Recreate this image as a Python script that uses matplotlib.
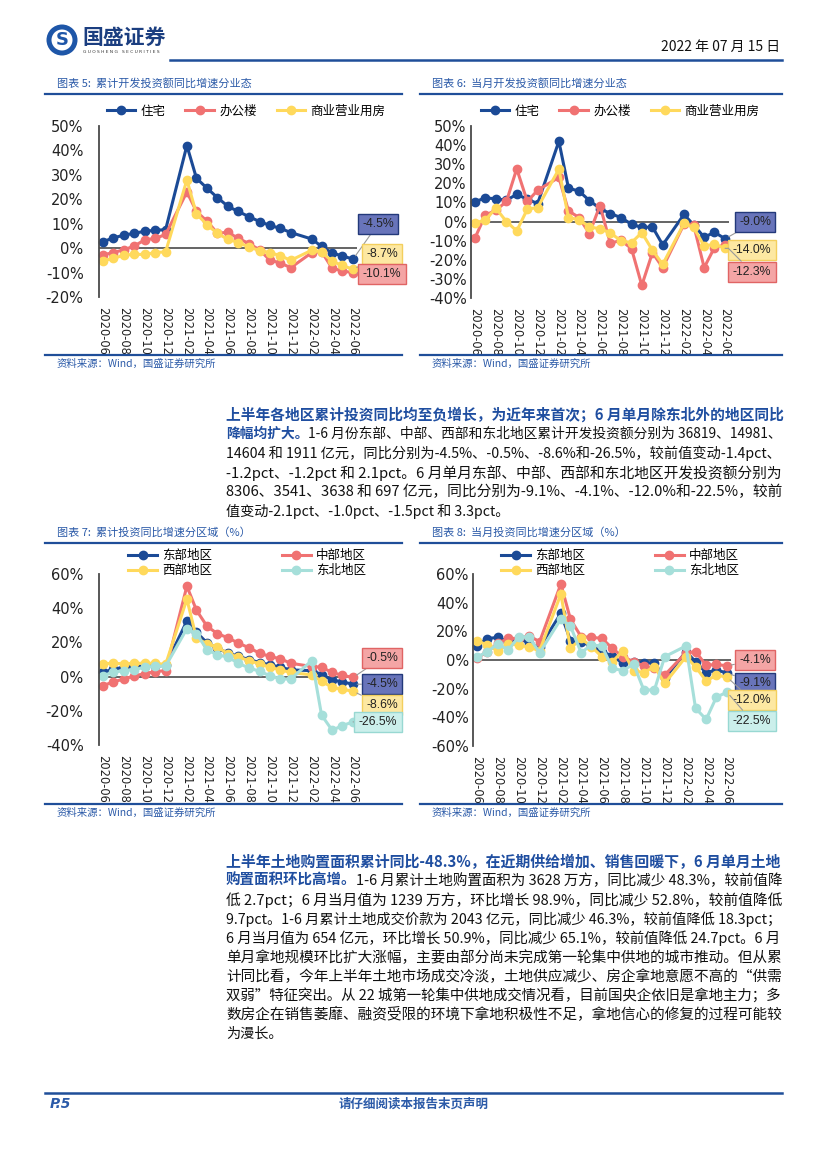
import matplotlib
matplotlib.use('Agg')
import matplotlib.pyplot as plt
import matplotlib.dates as mdates
import pandas as pd
from matplotlib.lines import Line2D
from matplotlib.patches import Ellipse

CJK = ['Noto Sans CJK SC', 'DejaVu Sans']
plt.rcParams['font.family'] = CJK

# ---------------- data ----------------
months = ['2020-06', '2020-07', '2020-08', '2020-09', '2020-10', '2020-11', '2020-12',
          '2021-02', '2021-03', '2021-04', '2021-05', '2021-06', '2021-07', '2021-08',
          '2021-09', '2021-10', '2021-11', '2021-12', '2022-02', '2022-03', '2022-04',
          '2022-05', '2022-06']

# chart 5: cumulative investment yoy by property type
res_cum = [2.6, 4.2, 5.3, 6.1, 6.9, 7.3, 7.6, 42.0, 28.6, 24.5, 20.7, 17.1, 15.0, 12.9,
           10.9, 9.3, 8.1, 6.4, 3.7, 0.7, -2.0, -3.2, -4.5]
office_cum = [-2.8, -1.8, -0.7, 0.9, 3.4, 4.0, 5.6, 23.0, 15.0, 11.0, 6.1, 6.5, 4.0, 1.9,
              -0.7, -4.9, -6.1, -8.0, -1.8, -1.4, -8.3, -9.3, -10.1]
comm_cum = [-5.2, -4.2, -2.9, -2.5, -2.6, -1.8, -1.5, 27.9, 14.0, 9.6, 6.0, 3.6, 2.3, 0.5,
            -1.0, -1.8, -3.1, -5.0, -0.8, -1.6, -5.4, -7.1, -8.7]

# chart 6: monthly investment yoy by property type
res_mon = [10.3, 12.4, 11.9, 11.2, 14.2, 11.7, 9.4, 42.0, 17.5, 15.9, 11.0, 6.8, 4.2, 2.1,
           -1.4, -3.1, -2.8, -12.2, 3.7, -1.7, -8.2, -5.6, -9.0]
office_mon = [-8.7, 3.3, 5.9, 10.5, 27.6, 10.5, 16.4, 23.1, 5.6, 2.1, -6.3, 8.4, -11.4, -9.8,
              -14.2, -33.4, -16.3, -24.1, -1.4, -1.6, -24.1, -13.6, -12.3]
comm_mon = [-0.7, 0.7, 7.0, 0.0, -4.9, 6.5, 7.3, 27.4, 2.1, 1.0, -2.8, -3.8, -5.8, -10.1,
            -11.0, -5.8, -15.0, -22.4, -1.0, -3.1, -12.8, -11.9, -14.0]

# chart 7: cumulative investment yoy by region
east_cum = [2.5, 4.3, 5.5, 5.9, 6.3, 6.3, 6.5, 32.5, 26.0, 19.6, 16.7, 13.7, 11.8, 10.0,
            8.2, 6.9, 5.5, 3.9, 3.5, 1.2, -2.0, -3.1, -4.5]
central_cum = [-5.3, -3.1, -1.4, 0.4, 1.8, 2.9, 3.5, 52.9, 38.8, 29.4, 25.1, 22.7, 19.6, 16.9,
               13.7, 11.8, 10.4, 7.8, 5.9, 5.5, 2.4, 0.7, -0.5]
west_cum = [7.5, 7.8, 7.5, 7.8, 7.8, 7.8, 7.1, 45.3, 22.4, 19.2, 17.3, 13.3, 11.4, 9.4,
            7.5, 5.5, 3.9, 2.4, 1.0, -2.7, -6.3, -7.4, -8.6]
ne_cum = [0.6, 2.5, 3.5, 4.1, 5.5, 6.1, 6.1, 28.0, 25.1, 15.7, 12.7, 11.4, 7.8, 5.1,
          3.1, 0.6, -1.4, -1.4, 9.4, -22.5, -31.4, -28.6, -26.5]

# chart 8: monthly investment yoy by region
east_mon = [10.0, 14.9, 15.8, 12.8, 15.1, 11.6, 8.8, 32.6, 13.5, 12.8, 9.8, 5.8, 2.8, -2.3,
            -1.2, -1.9, -1.9, -12.8, 5.8, -1.2, -8.8, -7.0, -9.1]
central_mon = [1.2, 5.8, 11.6, 15.1, 15.1, 16.7, 12.8, 53.0, 28.4, 16.3, 15.8, 15.1, 8.1, 2.3,
               -1.2, -4.2, -5.8, -10.5, 5.1, 5.8, -3.7, -3.1, -4.1]
west_mon = [13.5, 10.5, 6.3, 11.2, 10.5, 8.8, 6.5, 46.0, 8.1, 15.1, 9.3, 2.3, -1.2, 6.3,
            -7.4, -8.8, -4.7, -16.3, 2.3, -4.7, -14.7, -10.5, -12.0]
ne_mon = [1.9, 5.8, 11.2, 7.0, 16.3, 15.8, 5.1, 28.6, 23.7, 5.1, 10.5, 9.8, -5.8, -7.4,
          -2.8, -20.9, -20.9, 2.3, 9.8, -33.7, -41.4, -25.8, -22.5]

type_names = ['住宅', '办公楼', '商业营业用房']
region_names = ['东部地区', '中部地区', '西部地区', '东北地区']

titles = ['图表 5:  累计开发投资额同比增速分业态', '图表 6:  当月开发投资额同比增速分业态',
          '图表 7:  累计投资同比增速分区域（%）', '图表 8:  当月投资同比增速分区域（%）']
source = '资料来源：Wind，国盛证券研究所'

para1 = [
    [('上半年各地区累计投资同比均至负增长，为近年来首次；6 月单月除东北外的地区同比', True)],
    [('降幅均扩大。', True), ('1-6 月份东部、中部、西部和东北地区累计开发投资额分别为 36819、14981、', False)],
    [('14604 和 1911 亿元，同比分别为-4.5%、-0.5%、-8.6%和-26.5%，较前值变动-1.4pct、', False)],
    [('-1.2pct、-1.2pct 和 2.1pct。6 月单月东部、中部、西部和东北地区开发投资额分别为', False)],
    [('8306、3541、3638 和 697 亿元，同比分别为-9.1%、-4.1%、-12.0%和-22.5%，较前', False)],
    [('值变动-2.1pct、-1.0pct、-1.5pct 和 3.3pct。', False)],
]
para2 = [
    [('上半年土地购置面积累计同比-48.3%，在近期供给增加、销售回暖下，6 月单月土地', True)],
    [('购置面积环比高增。', True), ('1-6 月累计土地购置面积为 3628 万方，同比减少 48.3%，较前值降', False)],
    [('低 2.7pct；6 月当月值为 1239 万方，环比增长 98.9%，同比减少 52.8%，较前值降低', False)],
    [('9.7pct。1-6 月累计土地成交价款为 2043 亿元，同比减少 46.3%，较前值降低 18.3pct；', False)],
    [('6 月当月值为 654 亿元，环比增长 50.9%，同比减少 65.1%，较前值降低 24.7pct。6 月', False)],
    [('单月拿地规模环比扩大涨幅，主要由部分尚未完成第一轮集中供地的城市推动。但从累', False)],
    [('计同比看，今年上半年土地市场成交冷淡，土地供应减少、房企拿地意愿不高的“供需', False)],
    [('双弱”特征突出。从 22 城第一轮集中供地成交情况看，目前国央企依旧是拿地主力；多', False)],
    [('数房企在销售萎靡、融资受限的环境下拿地积极性不足，拿地信心的修复的过程可能较', False)],
    [('为漫长。', False)],
]

# ---------------- style ----------------
BLUE_LINE = '#1F4E99'
TXT_BLUE = '#2B5AA8'
C_BLUE = '#1B4A96'
C_RED = '#F07272'
C_YEL = '#FFD95C'
C_TEAL = '#A6DFDA'
BOX = {C_BLUE: ('#6874BA', '#23397A'), C_RED: ('#F4A5A5', '#E06464'),
       C_YEL: ('#FDE8A2', '#F3CF5E'), C_TEAL: ('#CBEFEB', '#98D8D2')}

W, H = 827, 1169
fig = plt.figure(figsize=(W / 100, H / 100), dpi=100)


def fx(x):
    return x / W


def fy(y):
    return 1 - y / H


def hline(x0, x1, y, lw=1.6, color=BLUE_LINE):
    fig.add_artist(Line2D([fx(x0), fx(x1)], [fy(y), fy(y)], transform=fig.transFigure,
                          color=color, lw=lw))


def add_axes_px(left, top, right, bottom):
    return fig.add_axes([fx(left), fy(bottom), (right - left) / W, (bottom - top) / H])


dates = pd.to_datetime(months, format='%Y-%m')
xmin = dates[0] - pd.Timedelta(days=12)
xmax = dates[-1] + pd.Timedelta(days=12)


def make_chart(rect, series, names, colors, ylim, ystep, ypad, legend_spec, boxes, order=None):
    ax = add_axes_px(*rect)
    lines = []
    for vals, nm, c in zip(series, names, colors):
        ln, = ax.plot(dates, vals, color=c, lw=2.2, marker='o', ms=6, mfc=c, mec=c,
                      label=nm, clip_on=False, solid_joinstyle='round')
        lines.append(ln)
    ax.set_xlim(xmin, xmax)
    ax.set_ylim(*ylim)
    ax.set_yticks(range(ylim[0], ylim[1] + 1, ystep))
    ax.yaxis.set_major_formatter(matplotlib.ticker.FuncFormatter(lambda v, p: f'{v:.0f}%'))
    ax.xaxis.set_major_locator(mdates.MonthLocator(bymonth=[2, 4, 6, 8, 10, 12]))
    ax.xaxis.set_major_formatter(mdates.DateFormatter('%Y-%m'))
    ax.tick_params(axis='y', length=0, pad=ypad, labelsize=10.5, labelfontfamily='DejaVu Sans',
                   labelcolor='#222222')
    ax.tick_params(axis='x', length=0, pad=7, labelsize=8.3, labelfontfamily='DejaVu Sans',
                   labelcolor='#222222', labelrotation=-90)
    for s in ['top', 'right', 'bottom']:
        ax.spines[s].set_visible(False)
    ax.spines['left'].set_color('#4A4A4A')
    ax.spines['left'].set_linewidth(1.3)
    ax.axhline(0, color='#4A4A4A', lw=1.2, zorder=1)
    ax.patch.set_alpha(0)
    # legend
    cx, cy, ncol, colsp = legend_spec
    hs = lines if order is None else [lines[i] for i in order]
    ax.legend(handles=hs, labels=[h.get_label() for h in hs], ncol=ncol, loc='center',
              bbox_to_anchor=(fx(cx), fy(cy)), bbox_transform=fig.transFigure, frameon=False,
              prop={'family': CJK, 'size': 9}, handlelength=2.3, handletextpad=0.4,
              columnspacing=colsp, labelspacing=0.15, borderpad=0, markerscale=1.0)
    # end-value boxes
    for idx, (bx, by) in boxes:
        v = series[idx][-1]
        fc, ec = BOX[colors[idx]]
        ax.annotate(f'{v:.1f}%', xy=(dates[-1], v), xycoords='data',
                    xytext=(fx(bx), fy(by)), textcoords='figure fraction',
                    ha='center', va='center', fontsize=8.8, family='Liberation Sans',
                    color='#222222',
                    bbox=dict(boxstyle='square,pad=0.35', fc=fc, ec=ec, lw=1.0),
                    arrowprops=dict(arrowstyle='-', color='#9A9A9A', lw=0.8, shrinkA=0, shrinkB=3),
                    annotation_clip=False, zorder=5)
    return ax


type_colors = [C_BLUE, C_RED, C_YEL]
reg_colors = [C_BLUE, C_RED, C_YEL, C_TEAL]

make_chart((98.8, 126, 357.2, 297), [res_cum, office_cum, comm_cum], type_names, type_colors,
           (-20, 50), 10, 11, (246, 111, 3, 1.6),
           [(0, (378, 224)), (2, (382, 254)), (1, (382, 274))])
make_chart((470.8, 126, 729.2, 298), [res_mon, office_mon, comm_mon], type_names, type_colors,
           (-40, 50), 10, 3, (620, 111, 3, 1.6),
           [(0, (755, 222)), (2, (752, 250)), (1, (752, 272))])
make_chart((98.8, 574, 357.2, 745), [east_cum, central_cum, west_cum, ne_cum], region_names,
           reg_colors, (-40, 60), 20, 11, (247, 563, 2, 5.6),
           [(1, (382, 658)), (0, (382, 684)), (2, (382, 705)), (3, (378, 722))], order=[0, 2, 1, 3])
make_chart((472.8, 574, 731.2, 746), [east_mon, central_mon, west_mon, ne_mon], region_names,
           reg_colors, (-60, 60), 20, 3, (620, 563, 2, 5.6),
           [(1, (755, 660)), (0, (755, 683)), (2, (752, 700)), (3, (752, 721))], order=[0, 2, 1, 3])

# ---------------- page furniture ----------------
# logo
fig.add_artist(Ellipse((fx(62), fy(40)), 31 / W, 31 / H, transform=fig.transFigure,
                       fc='#1E56A8', ec='none'))
fig.add_artist(Ellipse((fx(62), fy(40)), 21 / W, 21 / H, transform=fig.transFigure,
                       fc='white', ec='none'))
fig.text(fx(62), fy(40), 'S', ha='center', va='center', fontsize=13, fontweight='bold',
         color='#1E56A8', family='DejaVu Sans')
fig.text(fx(82), fy(37), '国盛证券', ha='left', va='center', fontsize=15, fontweight='bold',
         color='#1B3E80')
fig.text(fx(83), fy(52), 'G U O S H E N G   S E C U R I T I E S', ha='left', va='center',
         fontsize=3.2, color='#333333', family='DejaVu Sans')
fig.text(fx(780), fy(47), '2022 年 07 月 15 日', ha='right', va='center', fontsize=10,
         color='#111111')
hline(170, 782, 60, lw=1.8)

# chart titles, rules and sources
for (tx, ty, lx0, lx1, ly, sy) in [(57, 83, 45, 402, 94, 363), (432, 83, 420, 782, 94, 363),
                                   (57, 532, 45, 402, 543, 812), (432, 532, 420, 782, 543, 812)]:
    pass

tpos = [(57, 83, 45, 402, 94, 355, 364), (432, 83, 420, 782, 94, 355, 364),
        (57, 532, 45, 402, 543, 804, 813), (432, 532, 420, 782, 543, 804, 813)]
for t, (tx, ty, lx0, lx1, ly, sly, sy) in zip(titles, tpos):
    fig.text(fx(tx), fy(ty), t, ha='left', va='center', fontsize=8, color=TXT_BLUE,
             style='italic')
    hline(lx0, lx1, ly, lw=1.6)
    hline(lx0, lx1, sly, lw=1.6)
    fig.text(fx(tx), fy(sy), source, ha='left', va='center', fontsize=7.5, color=TXT_BLUE,
             style='italic')

# body paragraphs (each line stretched to the text width)
renderer = fig.canvas.get_renderer()


def paragraph(lines, x0, x1, y0, dy, size=10.2):
    target = x1 - x0
    for i, segs in enumerate(lines):
        y = y0 + i * dy
        objs = []
        for s, bold in segs:
            objs.append(fig.text(fx(x0), fy(y), s, ha='left', va='center', fontsize=size,
                                 fontweight='bold' if bold else 'normal',
                                 color='#1F4EA0' if bold else '#111111'))
        total = sum(o.get_window_extent(renderer).width for o in objs)
        if i < len(lines) - 1:
            sc = min(max(target / total, 0.9), 1.1)
        else:
            sc = 1.0
        xcur = x0
        for o in objs:
            o.set_fontsize(size * sc)
            o.set_x(fx(xcur))
            xcur += o.get_window_extent(renderer).width


paragraph(para1, 226, 781, 415, 19.2)
paragraph(para2, 226, 781, 862, 19.1)

# footer
hline(45, 782, 1093, lw=1.8)
fig.text(fx(50), fy(1104), 'P.5', ha='left', va='center', fontsize=10, fontweight='bold',
         style='italic', color=TXT_BLUE, family='DejaVu Sans')
fig.text(fx(414), fy(1104), '请仔细阅读本报告末页声明', ha='center', va='center', fontsize=9,
         fontweight='bold', color=TXT_BLUE)

fig.savefig('out.png', dpi=100)
